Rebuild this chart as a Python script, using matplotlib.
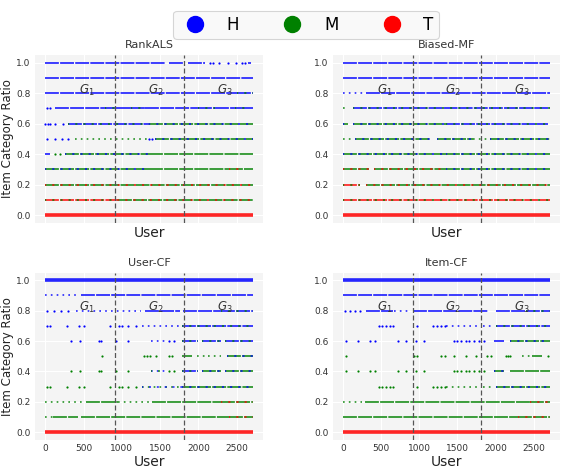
import matplotlib
matplotlib.use('Agg')
import matplotlib.pyplot as plt
from matplotlib.lines import Line2D

# ---- data ----
# user index range and the G1/G2/G3 split
n_users = 2710
group_bounds = [910, 1810]
group_labels = ['$G_1$', '$G_2$', '$G_3$']
group_label_x = [545, 1440, 2340]
group_label_y = 0.82

titles = ['RankALS', 'Biased-MF', 'User-CF', 'Item-CF']
cat_names = ['H', 'M', 'T']
cat_colors = {'H': '#0000ff', 'M': '#008000', 'T': '#ff0000'}

# segments: (ratio level, first user, last user, categories present, density)
# the first category dominates, the second shows up as specks
rankals_segments = [
  (1.0, 0, 1567, 'H', 'dense'), (1.0, 1620, 1827, 'H', 'dense'),
  (1.0, 1862, 2087, 'H', 'dense'), (1.0, 2650, 2693, 'H', 'dense'),
  (0.9, 0, 2710, 'H', 'dense'),
  (0.8, 0, 2500, 'H', 'dense'), (0.8, 2500, 2710, 'HM', 'dense'),
  (0.7, 130, 780, 'H', 'dense'), (0.7, 780, 950, 'HM', 'dense'),
  (0.7, 950, 1125, 'H', 'dense'), (0.7, 1125, 1300, 'HM', 'dense'),
  (0.7, 1300, 2000, 'H', 'dense'), (0.7, 2000, 2220, 'HM', 'dense'),
  (0.7, 2220, 2476, 'H', 'dense'), (0.7, 2476, 2650, 'HM', 'dense'),
  (0.7, 2650, 2710, 'H', 'dense'),
  (0.6, 303, 1350, 'HM', 'dense'), (0.6, 1350, 2710, 'MH', 'dense'),
  (0.5, 390, 1350, 'M', 'sparse'), (0.5, 1430, 2710, 'MH', 'dense'),
  (0.4, 0, 60, 'H', 'dense'), (0.4, 260, 1350, 'MH', 'dense'),
  (0.4, 1350, 2710, 'M', 'dense'),
  (0.3, 0, 1350, 'MH', 'dense'), (0.3, 1350, 2400, 'M', 'dense'),
  (0.3, 2400, 2600, 'MT', 'dense'), (0.3, 2600, 2710, 'M', 'dense'),
  (0.2, 0, 2710, 'MT', 'dense'),
  (0.1, 0, 950, 'TM', 'dense'), (0.1, 950, 2710, 'MT', 'dense'),
  (0.0, 0, 2710, 'T', 'full'),
]
rankals_dots = [
  (1.0, 'H', [2152, 2195, 2269, 2390, 2485, 2563, 2605]),
  (0.7, 'H', [22, 65]),
  (0.6, 'H', [0, 30, 65, 130, 238]),
  (0.5, 'H', [22, 130, 220, 303, 1351, 1400]),
  (0.4, 'M', [130, 195]),
]

biasedmf_segments = [
  (1.0, 0, 2710, 'H', 'dense'),
  (0.9, 0, 2710, 'H', 'dense'),
  (0.8, 0, 300, 'H', 'sparse'), (0.8, 300, 2710, 'H', 'dense'),
  (0.7, 0, 60, 'M', 'sparse'), (0.7, 130, 2710, 'HM', 'dense'),
  (0.6, 0, 60, 'MH', 'dense'), (0.6, 130, 1350, 'MH', 'dense'),
  (0.6, 1350, 2690, 'HM', 'dense'),
  (0.5, 0, 110, 'M', 'sparse'), (0.5, 150, 1140, 'MH', 'dense'),
  (0.5, 1230, 1700, 'MH', 'dense'), (0.5, 1700, 1920, 'M', 'sparse'),
  (0.5, 1920, 2710, 'MH', 'dense'),
  (0.4, 0, 1350, 'MH', 'dense'), (0.4, 1350, 2710, 'MH', 'dense'),
  (0.3, 0, 340, 'MT', 'dense'), (0.3, 410, 1350, 'MT', 'dense'),
  (0.3, 1350, 2710, 'MH', 'dense'),
  (0.2, 0, 220, 'TM', 'dense'), (0.2, 300, 2710, 'MT', 'dense'),
  (0.1, 0, 2710, 'TM', 'dense'),
  (0.0, 0, 2710, 'T', 'full'),
]
biasedmf_dots = []

usercf_segments = [
  (1.0, 0, 2710, 'H', 'full'),
  (0.9, 0, 430, 'H', 'sparse'), (0.9, 470, 2710, 'H', 'dense'),
  (0.8, 400, 1250, 'H', 'sparse'), (0.8, 1300, 1760, 'H', 'dense'),
  (0.8, 1800, 2300, 'H', 'dense'), (0.8, 2300, 2710, 'HM', 'dense'),
  (0.7, 1260, 1780, 'H', 'sparse'), (0.7, 1790, 2710, 'HM', 'dense'),
  (0.6, 1380, 1570, 'H', 'sparse'), (0.6, 1790, 2000, 'HM', 'dense'),
  (0.6, 2050, 2300, 'HM', 'dense'), (0.6, 2350, 2710, 'HM', 'dense'),
  (0.5, 1790, 1910, 'M', 'dense'), (0.5, 1980, 2090, 'M', 'sparse'),
  (0.5, 2130, 2300, 'M', 'sparse'), (0.5, 2370, 2710, 'MH', 'dense'),
  (0.4, 1380, 1570, 'HM', 'sparse'), (0.4, 1790, 2000, 'HM', 'dense'),
  (0.4, 2050, 2300, 'MH', 'dense'), (0.4, 2350, 2710, 'MH', 'dense'),
  (0.3, 1260, 1780, 'MH', 'sparse'), (0.3, 1790, 2710, 'MH', 'dense'),
  (0.2, 0, 500, 'M', 'sparse'), (0.2, 530, 950, 'M', 'dense'),
  (0.2, 950, 1400, 'M', 'sparse'), (0.2, 1400, 2300, 'M', 'dense'),
  (0.2, 2300, 2710, 'MT', 'dense'),
  (0.1, 0, 100, 'M', 'sparse'), (0.1, 100, 430, 'M', 'dense'),
  (0.1, 470, 2400, 'M', 'dense'), (0.1, 2400, 2710, 'MT', 'dense'),
  (0.0, 0, 2710, 'T', 'full'),
]
usercf_dots = [
  (0.8, 'H', [26, 110, 200, 300]),
  (0.7, 'H', [22, 60, 290, 440, 500, 840, 960, 1000, 1080, 1190]),
  (0.6, 'H', [338, 455, 700, 730, 930, 1082, 1611, 1676]),
  (0.5, 'M', [736, 1290, 1330, 1370, 1440, 1611, 1650]),
  (0.4, 'M', [338, 455, 700, 730, 930, 1082, 1611, 1676]),
  (0.3, 'M', [22, 60, 290, 440, 500, 840, 960, 1000, 1080, 1190]),
]

itemcf_segments = [
  (1.0, 0, 2710, 'H', 'full'),
  (0.9, 0, 2710, 'H', 'dense'),
  (0.8, 300, 650, 'H', 'dense'), (0.8, 670, 890, 'H', 'sparse'),
  (0.8, 910, 1900, 'H', 'dense'), (0.8, 2000, 2400, 'H', 'dense'),
  (0.8, 2400, 2710, 'HM', 'dense'),
  (0.7, 1351, 1780, 'H', 'sparse'), (0.7, 1830, 1960, 'H', 'sparse'),
  (0.7, 2000, 2710, 'HM', 'dense'),
  (0.6, 1980, 2110, 'H', 'dense'), (0.6, 2195, 2710, 'MH', 'dense'),
  (0.5, 2350, 2450, 'M', 'sparse'), (0.5, 2480, 2610, 'M', 'dense'),
  (0.4, 1980, 2110, 'MH', 'dense'), (0.4, 2195, 2710, 'M', 'dense'),
  (0.3, 1351, 1780, 'M', 'sparse'), (0.3, 1830, 1960, 'M', 'sparse'),
  (0.3, 2000, 2710, 'MH', 'dense'),
  (0.2, 0, 250, 'M', 'sparse'), (0.2, 280, 2450, 'M', 'dense'),
  (0.2, 2450, 2710, 'MT', 'dense'),
  (0.1, 0, 2300, 'M', 'dense'), (0.1, 2300, 2710, 'MT', 'dense'),
  (0.0, 0, 2710, 'T', 'full'),
]
itemcf_dots = [
  (0.8, 'H', [22, 87, 152, 216]),
  (0.7, 'H', [470, 510, 560, 610, 650, 974, 1180, 1230, 1280, 1330]),
  (0.6, 'H', [43, 195, 346, 411, 715, 823, 953, 1060, 1460, 1500, 1546,
              1611, 1654, 1720, 1780, 1849]),
  (0.5, 'M', [35, 930, 970, 1280, 1340, 1459, 1611, 1741, 1892, 1935,
              2130, 2160, 2195, 2693]),
  (0.4, 'M', [43, 195, 346, 411, 715, 823, 953, 1060, 1460, 1500, 1546,
              1611, 1654, 1720, 1780, 1849]),
  (0.3, 'M', [470, 510, 560, 610, 650, 974, 1180, 1230, 1280, 1330]),
]

panel_segments = [rankals_segments, biasedmf_segments, usercf_segments, itemcf_segments]
panel_dots = [rankals_dots, biasedmf_dots, usercf_dots, itemcf_dots]

# ---- drawing ----
LW = {'full': 2.6, 'dense': 1.25, 'sparse': 1.2}
DASH = {'full': '-', 'dense': (0, (8, 0.7)), 'sparse': (0, (1, 2.5))}


def draw_panel(ax, segments, dots):
  for level, x0, x1, cats, density in segments:
    ax.plot([x0, x1], [level, level], color=cat_colors[cats[0]], alpha=0.85,
            lw=LW[density], ls=DASH[density], solid_capstyle='butt',
            dash_capstyle='butt', zorder=3)
    if len(cats) > 1:
      ax.plot([x0, x1], [level, level], color=cat_colors[cats[1]], alpha=0.8,
              lw=LW[density], ls=(0.5, (1.2, 3.5)), dash_capstyle='butt', zorder=4)
  for level, cat, xs in dots:
    ax.scatter(xs, [level] * len(xs), s=2.5, color=cat_colors[cat],
               linewidths=0, zorder=4)

  for xb in group_bounds:
    ax.axvline(xb, color='#555555', ls=(0, (4, 2)), lw=0.9, zorder=5)
  for lab, gx in zip(group_labels, group_label_x):
    ax.text(gx, group_label_y, lab, ha='center', va='center', fontsize=8.5,
            color='#333333', zorder=6)

  ax.set_facecolor('#f4f4f4')
  ax.grid(True, color='white', lw=0.8)
  ax.set_axisbelow(True)
  for s in ax.spines.values():
    s.set_visible(False)
  ax.tick_params(length=0, labelsize=6.5, labelcolor='#333333', pad=3)
  ax.set_ylim(-0.05, 1.05)
  ax.set_yticks([0.0, 0.2, 0.4, 0.6, 0.8, 1.0])
  ax.set_xlim(-135, n_users + 135)
  ax.set_xticks([0, 500, 1000, 1500, 2000, 2500])


fig = plt.figure(figsize=(5.72, 4.75), dpi=100)
positions = [
  [0.061, 0.531, 0.399, 0.353],
  [0.582, 0.531, 0.397, 0.353],
  [0.061, 0.074, 0.399, 0.352],
  [0.582, 0.074, 0.397, 0.352],
]
axes = []
for i, pos in enumerate(positions):
  ax = fig.add_axes(pos)
  draw_panel(ax, panel_segments[i], panel_dots[i])
  ax.set_title(titles[i], fontsize=8, color='#333333', pad=5)
  ax.set_xlabel('User', fontsize=10, color='#222222')
  if i < 2:
    ax.set_xticklabels([])
    ax.xaxis.set_label_coords(0.5, -0.02)
  else:
    ax.xaxis.set_label_coords(0.5, -0.09)
  ax.xaxis.label.set_va('top')
  if i % 2 == 0:
    ax.set_ylabel('Item Category Ratio', fontsize=8.5, color='#222222')
    ax.yaxis.set_label_coords(-0.09, 0.5)
  axes.append(ax)

handles = [Line2D([], [], marker='o', ls='none', markersize=11.5,
                  markerfacecolor=cat_colors[c], markeredgecolor=cat_colors[c])
           for c in cat_names]
leg = fig.legend(handles, cat_names, loc='upper center', bbox_to_anchor=(0.535, 0.995),
                 ncol=3, fontsize=12, frameon=True, columnspacing=2.2,
                 handletextpad=0.9, borderpad=0.3, fancybox=True)
leg.get_frame().set_facecolor('#f8f8f8')
leg.get_frame().set_edgecolor('#cccccc')
leg.get_frame().set_linewidth(0.8)

fig.savefig('out.png', dpi=100)
